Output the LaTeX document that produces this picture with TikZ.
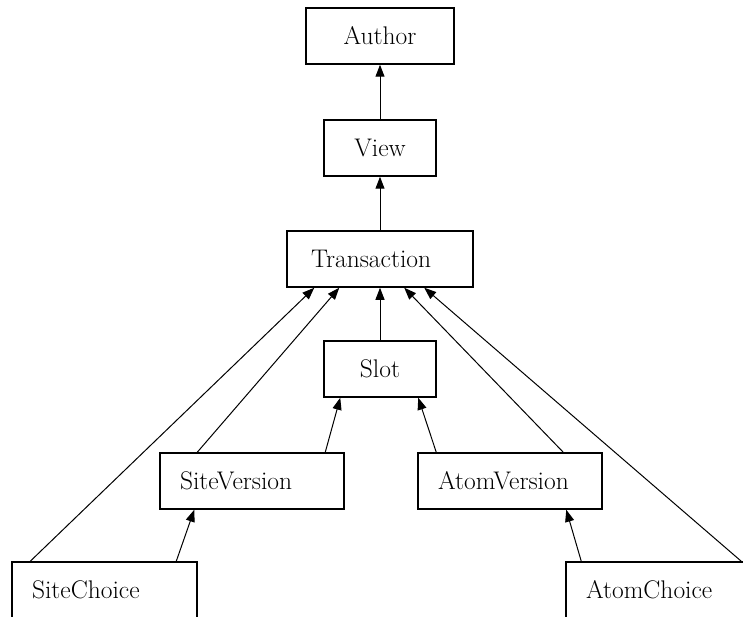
\documentclass[tikz,border=0pt]{standalone}
\usepackage{tikz}
\usetikzlibrary{arrows.meta}

\tikzset{
  cls/.style={draw, line width=1.5pt, minimum height=56pt, inner xsep=20pt,
    inner ysep=0pt, font=\fontsize{25.5}{30}\selectfont},
  dep/.style={line width=1pt, -{Triangle[length=12pt,width=9pt]}}
}

\begin{document}
\begin{tikzpicture}[x=1pt,y=-1pt]
    \useasboundingbox (0,0) rectangle (743,617);
    \clip (0,0) rectangle (743,617);
    % classes
    \node [cls, text width=108pt, align=center] (author) at (380,36) {Author};
    \node [cls, text width=72pt, align=center] (view) at (380,148) {View};
    \node [cls, text width=146pt, align=left] (trans) at (380,259) {\hspace*{4pt}Transaction};
    \node [cls, text width=72pt, align=center] (slot) at (380,369) {Slot};
    \node [cls, text width=144pt, align=left] (sitever) at (252,481) {SiteVersion};
    \node [cls, text width=144pt, align=left] (atomver) at (510,481) {AtomVersion};
    \node [cls, text width=145pt, align=left] (sitech) at (104.5,590) {SiteChoice};
    \node [cls, text width=145pt, align=left] (atomch) at (658.5,590) {AtomChoice};
    % dependencies
    \draw [dep] (view) -- (author);
    \draw [dep] (trans) -- (view);
    \draw [dep] (slot) -- (trans);
    \draw [dep] ([xshift=166pt]sitever.north west) -- ([xshift=17pt]slot.south west);
    \draw [dep] ([xshift=19pt]atomver.north west) -- ([xshift=95pt]slot.south west);
    \draw [dep] ([xshift=38pt]sitever.north west) -- ([xshift=53pt]trans.south west);
    \draw [dep] ([xshift=146pt]atomver.north west) -- ([xshift=118pt]trans.south west);
    \draw [dep] ([xshift=19pt]sitech.north west) -- ([xshift=28pt]trans.south west);
    \draw [dep] ([xshift=176pt]atomch.north west) -- ([xshift=138pt]trans.south west);
    \draw [dep] ([xshift=165pt]sitech.north west) -- ([xshift=35pt]sitever.south west);
    \draw [dep] ([xshift=16pt]atomch.north west) -- ([xshift=149pt]atomver.south west);
\end{tikzpicture}
\end{document}
